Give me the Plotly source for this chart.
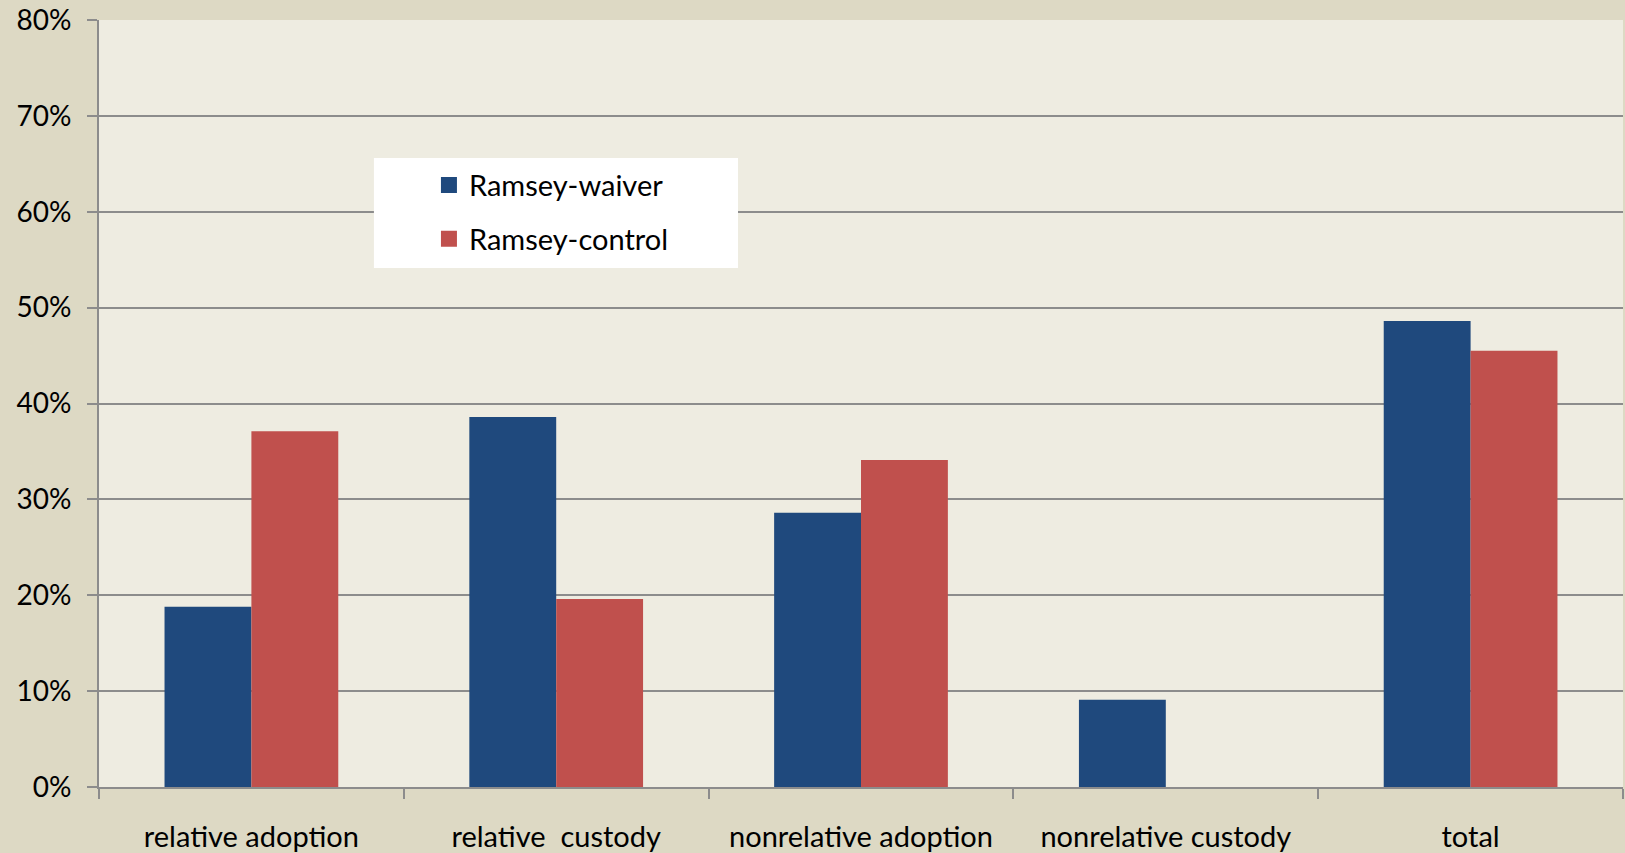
import plotly.graph_objects as go

categories = ["relative adoption", "relative\u00a0 custody", "nonrelative adoption", "nonrelative custody", "total"]
waiver = [0.188, 0.386, 0.286, 0.091, 0.486]
control = [0.371, 0.196, 0.341, 0.0, 0.455]
series_names = ["Ramsey-waiver", "Ramsey-control"]
colors = ["#1F497D", "#C0504D"]
y_ticks = [0, 0.1, 0.2, 0.3, 0.4, 0.5, 0.6, 0.7, 0.8]

FONT = "Lato"
fig = go.Figure()
for name, vals, c in zip(series_names, [waiver, control], colors):
    fig.add_trace(go.Bar(x=categories, y=vals, name=name, marker=dict(color=c, line=dict(width=0)),
                         showlegend=False))
# legend entries as square markers
for name, c in zip(series_names, colors):
    fig.add_trace(go.Scatter(x=[None], y=[None], mode="markers", name=name, legendgroup=name,
                             marker=dict(symbol="square", size=18, color=c)))

# legend background box
fig.add_shape(type="rect", xref="paper", yref="paper", x0=0.1804, x1=0.4193, y0=0.6767, y1=0.820,
              fillcolor="white", line=dict(width=0), layer="above")

fig.update_layout(
    width=1625, height=853,
    margin=dict(l=99, r=2, t=20, b=66),
    paper_bgcolor="#DDD9C4", plot_bgcolor="#EEECE1",
    barmode="group", bargap=0.43, bargroupgap=0,
    font=dict(family=FONT, color="black", size=29),
    legend=dict(x=0.2165, y=0.818, xanchor="left", yanchor="top", bgcolor="rgba(0,0,0,0)",
                font=dict(size=29, family=FONT, color="black"), tracegroupgap=13, itemsizing="trace"),
    xaxis=dict(showline=True, linecolor="#8C8C8C", linewidth=2, ticks="outside", tickson="boundaries",
               ticklen=10, tickcolor="#8C8C8C", tickwidth=2, tickfont=dict(size=29, family=FONT, color="black"),
               ticklabelstandoff=23, automargin=False),
    yaxis=dict(range=[0, 0.8], tickvals=y_ticks, tickformat=".0%", showline=True, linecolor="#8C8C8C",
               linewidth=2, ticks="outside", ticklen=10, tickcolor="#8C8C8C", tickwidth=2,
               gridcolor="#8C8C8C", gridwidth=2, zeroline=False, automargin=False,
               tickfont=dict(size=28, family=FONT, color="black"), ticklabelstandoff=10),
)
fig.write_html("out.html", config={"displayModeBar": False},
               post_script="document.body.style.margin='0px';")
